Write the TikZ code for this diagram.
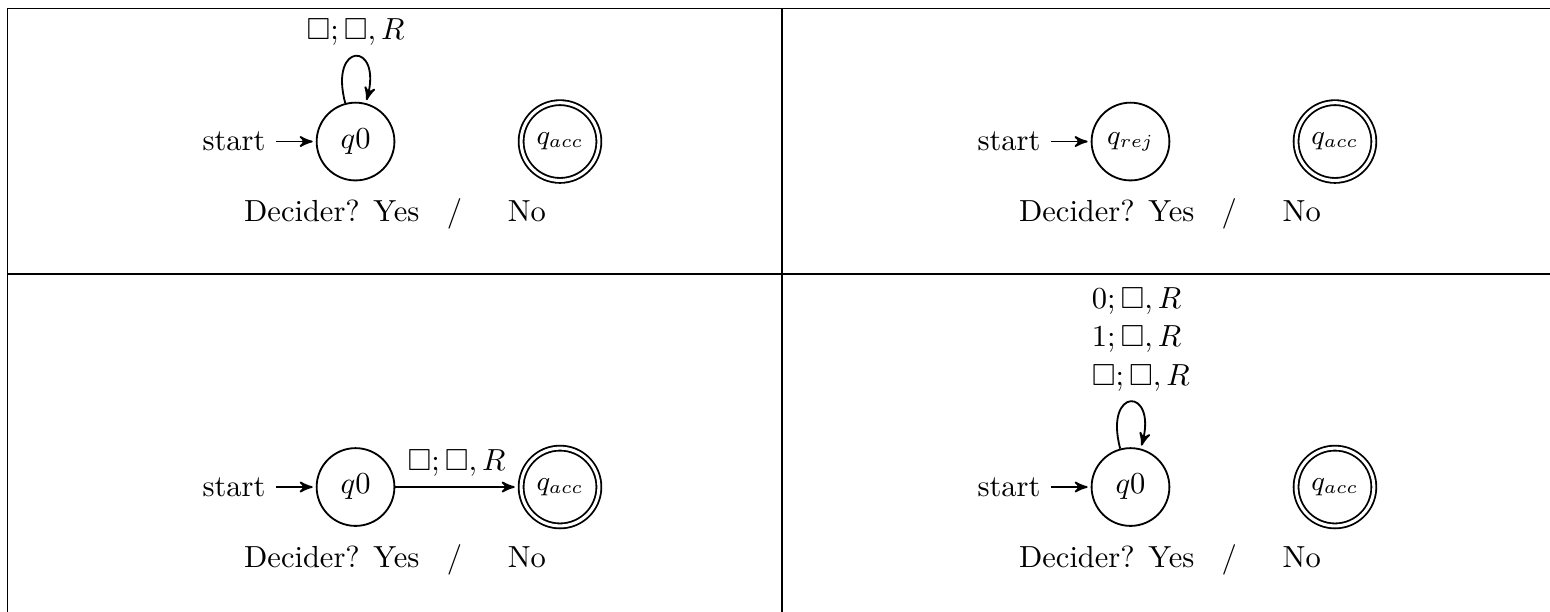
\documentclass[tikz,border=0pt]{standalone}
\usepackage{amssymb}
\usetikzlibrary{arrows, positioning}
\tikzstyle{tmstate} = [circle, draw, semithick, minimum size=25.5pt, inner sep=1pt]
\tikzstyle{tmaccept} = [tmstate, double, double distance=1pt, outer sep=1.1pt, font=\small]
\tikzstyle{trans} = [semithick, ->, >=stealth', shorten >=1pt]

\begin{document}
\begin{tikzpicture}
\useasboundingbox (0,0) rectangle (17.861,-7.052);

% Table rules
\draw (0.084,-7.052) -- (0.084,-0.098) -- (17.861,-0.098);
\draw (0.084,-3.157) -- (17.861,-3.157);
\draw (9.011,-0.098) -- (9.011,-7.052);

% Top left: loop on blank
\node[tmstate] (loopq) at (4.097,-1.631) {$q0$};
\node[tmaccept] (loopacc) at (6.453,-1.631) {$q_{acc}$};
\node[left=3ex of loopq] (loopstart) {start};
\draw[trans] (loopstart) -- (loopq);
\draw[trans] (loopq) to[loop above] node[above] {$\Box;\Box,R$} (loopq);
\node (loopdecide) at (4.552,-2.465) {Decider? Yes\hspace{9pt}/\hspace{15pt}No};

% Top right: start in reject
\node[tmstate, font=\small] (rejq) at (13.027,-1.631) {$q_{rej}$};
\node[tmaccept] (rejacc) at (15.383,-1.631) {$q_{acc}$};
\node[left=3ex of rejq] (rejstart) {start};
\draw[trans] (rejstart) -- (rejq);
\node (rejdecide) at (13.482,-2.465) {Decider? Yes\hspace{9pt}/\hspace{15pt}No};

% Bottom left: straight to accept
\node[tmstate] (edgeq) at (4.097,-5.612) {$q0$};
\node[tmaccept] (edgeacc) at (6.453,-5.612) {$q_{acc}$};
\node[left=3ex of edgeq] (edgestart) {start};
\draw[trans] (edgestart) -- (edgeq);
\draw[trans] (edgeq) -- node[above] {$\Box;\Box,R$} (edgeacc);
\node (edgedecide) at (4.552,-6.446) {Decider? Yes\hspace{9pt}/\hspace{15pt}No};

% Bottom right: loop on everything
\node[tmstate] (allq) at (13.027,-5.612) {$q0$};
\node[tmaccept] (allacc) at (15.383,-5.612) {$q_{acc}$};
\node[left=3ex of allq] (allstart) {start};
\draw[trans] (allstart) -- (allq);
\draw[trans] (allq) to[loop above] node[above, align=left, xshift=3.4pt] {$0;\Box,R$\\[0.6pt]$1;\Box,R$\\[0.6pt]$\Box;\Box,R$} (allq);
\node (alldecide) at (13.482,-6.446) {Decider? Yes\hspace{9pt}/\hspace{15pt}No};
\end{tikzpicture}
\end{document}
